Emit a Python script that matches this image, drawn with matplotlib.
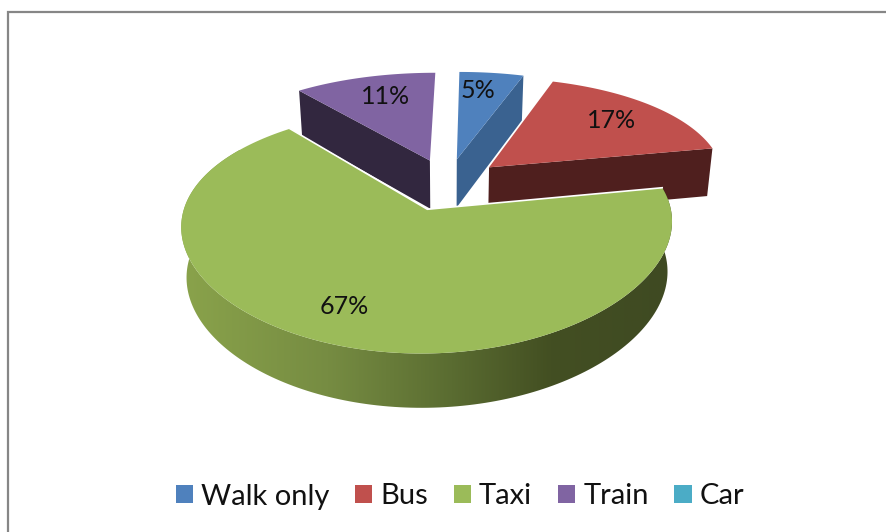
import matplotlib
matplotlib.use('Agg')
import matplotlib.pyplot as plt
from matplotlib.patches import Patch, Polygon
from matplotlib.colors import LinearSegmentedColormap
import numpy as np

# Chart data
categories = ['Walk only', 'Bus', 'Taxi', 'Train', 'Car']
shares = [5, 17, 67, 11, 0]

# Office style colours
top_colors = ['#4F81BD', '#C0504D', '#9BBB59', '#8064A2', '#4BACC6']
wall_colors = ['#3A6290', '#4F1F1E', '#3F4A22', '#32273F', '#2F6C7C']
label_pos = [(478, 91), (612, 120), (344, 307), (386, 96), None]

plt.rcParams['font.family'] = ['Lato', 'DejaVu Sans']

# Projection of the tilted pie onto the image, in pixels
cx, cy = 447.5, 184
scale_x, scale_y = 237, 110
persp_x, persp_y = 0.12, 0.17
skew = 3.5
explode = 0.235
depth = 49


def project(x, y, bottom=False):
    px = cx + scale_x * x / (1 + persp_x * y) + skew * y
    py = cy - scale_y * y / (1 + persp_y * y)
    if bottom:
        px = cx + (px - cx) * 0.98
        py = py + depth / (1 + 0.08 * y)
    return px, py


def slice_outline(start, end, n=200):
    # ground coordinates of the rim of one exploded slice
    mid = (start + end) / 2
    ox, oy = explode * np.sin(mid), explode * np.cos(mid)
    t = np.linspace(start, end, n)
    return ox, oy, ox + np.sin(t), oy + np.cos(t)


fig = plt.figure(figsize=(8.87, 5.32), dpi=100)
ax = fig.add_axes([0, 0, 1, 1])
ax.axis('off')

# chart frame runs off the right and bottom of the crop
ax.plot([8.5, 8.5, 887], [532, 12, 12], color='#868686', lw=1.6, solid_joinstyle='miter')

edges = np.cumsum([0] + shares) / sum(shares) * 2 * np.pi
rim_cmap = LinearSegmentedColormap.from_list(
    'rim', [(0, '#8AA34B'), (0.3, '#768C42'), (0.55, '#5A6C31'), (0.75, '#434F22'), (1, '#3F4A22')])

# back slices first, taxi goes on top
for i in [3, 0, 1, 2]:
    ox, oy, rx, ry = slice_outline(edges[i], edges[i + 1])

    if i == 2:
        # curved outer wall with the left to right shading
        tx, ty = project(rx, ry)
        bx, by = project(rx, ry, bottom=True)
        rim = Polygon(np.c_[np.r_[tx, bx[::-1]], np.r_[ty, by[::-1]]], closed=True,
                      facecolor='none', edgecolor='none', transform=ax.transData)
        ax.add_patch(rim)
        gradient = np.linspace(0, 1, 256).reshape(1, -1)
        im = ax.imshow(gradient, cmap=rim_cmap, extent=(180, 674, 420, 150), aspect='auto', zorder=2)
        im.set_clip_path(rim)
    else:
        # flat cut face which shows towards the viewer
        k = 0 if i == 3 else -1
        ax0, ay0 = project(ox, oy)
        bx0, by0 = project(ox, oy, bottom=True)
        ex, ey = project(rx[k], ry[k])
        fx, fy = project(rx[k], ry[k], bottom=True)
        ax.fill([ax0, ex, fx, bx0], [ay0, ey, fy, by0], color=wall_colors[i], lw=0)

    px, py = project(np.r_[ox, rx], np.r_[oy, ry])
    ax.fill(px, py, facecolor=top_colors[i], lw=0, zorder=3 if i == 2 else 1)
    if i == 2:
        # thin white gap along the two cut edges
        ax.plot([px[1], px[0], px[-1]], [py[1], py[0], py[-1]], color='white', lw=1.2, zorder=3)

for value, pos in zip(shares, label_pos):
    if value > 0:
        ax.text(pos[0], pos[1], '%d%%' % value, fontsize=18, color='#111111',
                ha='center', va='center', zorder=5)

ax.set_xlim(0, 887)
ax.set_ylim(532, 0)

handles = [Patch(facecolor=c, edgecolor='none') for c in top_colors]
ax.legend(handles, categories, ncol=5, loc='center', bbox_to_anchor=(460 / 887, 1 - 496.5 / 532),
          frameon=False, fontsize=21, handlelength=0.6, handleheight=0.6,
          handletextpad=0.27, columnspacing=0.88, labelcolor='#111111')

fig.savefig('out.png', dpi=100)
